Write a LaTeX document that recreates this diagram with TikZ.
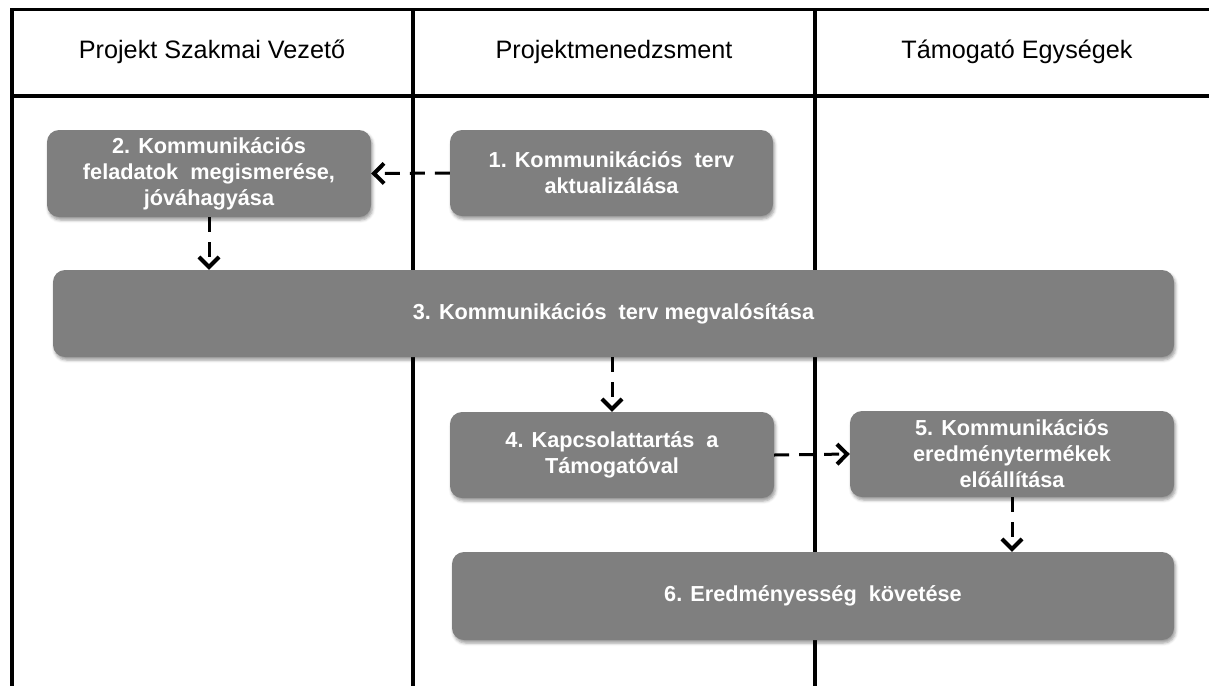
\documentclass[tikz,border=0pt]{standalone}
\usepackage{fontspec}
\setmainfont{Liberation Sans}
\usetikzlibrary{arrows.meta,shadows.blur}
\definecolor{boxgray}{HTML}{7F7F7F}

\begin{document}
\begin{tikzpicture}[x=1pt,y=-1pt,
  lane/.style={line width=3.5pt},
  lanehead/.style={font=\fontsize{25.2}{30}\selectfont},
  taskbox/.style={fill=boxgray, rounded corners=12pt, align=center, text=white,
    font=\bfseries\fontsize{21.7}{26}\selectfont, inner sep=0pt,
    blur shadow={shadow xshift=1.5pt, shadow yshift=-3pt, shadow blur radius=3pt, shadow opacity=40}},
  flow/.style={line width=3pt, dash pattern=on 15pt off 10pt,
    -{Straight Barb[length=10pt,width=20pt,line width=4pt]}}
]
\useasboundingbox (0,0) rectangle (1209,686);

% swimlane frame
\draw[lane] (12,9.5) -- (1209,9.5);
\draw[lane] (12,96) -- (1209,96);
\draw[lane] (12,8) -- (12,686);
\draw[lane] (413,8) -- (413,686);
\draw[lane] (815,8) -- (815,686);

% lane headings
\node[lanehead] (h1) at (212,52) {Projekt Szakmai Vezető};
\node[lanehead] (h2) at (614,52) {Projektmenedzsment};
\node[lanehead] (h3) at (1017,52) {Támogató Egységek};

% tasks
\node[taskbox, minimum width=323pt, minimum height=86pt] (t1) at (611.5,173)
  {1. Kommunikációs~~terv\\aktualizálása};
\node[taskbox, minimum width=324pt, minimum height=87pt] (t2) at (209,173.5)
  {2. Kommunikációs\\feladatok~~megismerése,\\jóváhagyása};
\node[taskbox, minimum width=1121pt, minimum height=87pt] (t3) at (613.5,313.5)
  {3. Kommunikációs~~terv megvalósítása};
\node[taskbox, minimum width=324pt, minimum height=86pt] (t4) at (612,455)
  {4. Kapcsolattartás~~a\\Támogatóval};
\node[taskbox, minimum width=324pt, minimum height=86pt] (t5) at (1012,454)
  {5. Kommunikációs\\eredménytermékek\\előállítása};
\node[taskbox, minimum width=722pt, minimum height=88pt] (t6) at (813,596)
  {6. Eredményesség~~követése};

% flow
\draw[flow] (t1.west) -- (t2.east);
\draw[flow] (t2.south) -- (t2.south |- t3.north);
\draw[flow] (t4.north |- t3.south) -- (t4.north);
\draw[flow] (t4.east) -- (t5.west);
\draw[flow] (t5.south) -- (t5.south |- t6.north);
\end{tikzpicture}
\end{document}
